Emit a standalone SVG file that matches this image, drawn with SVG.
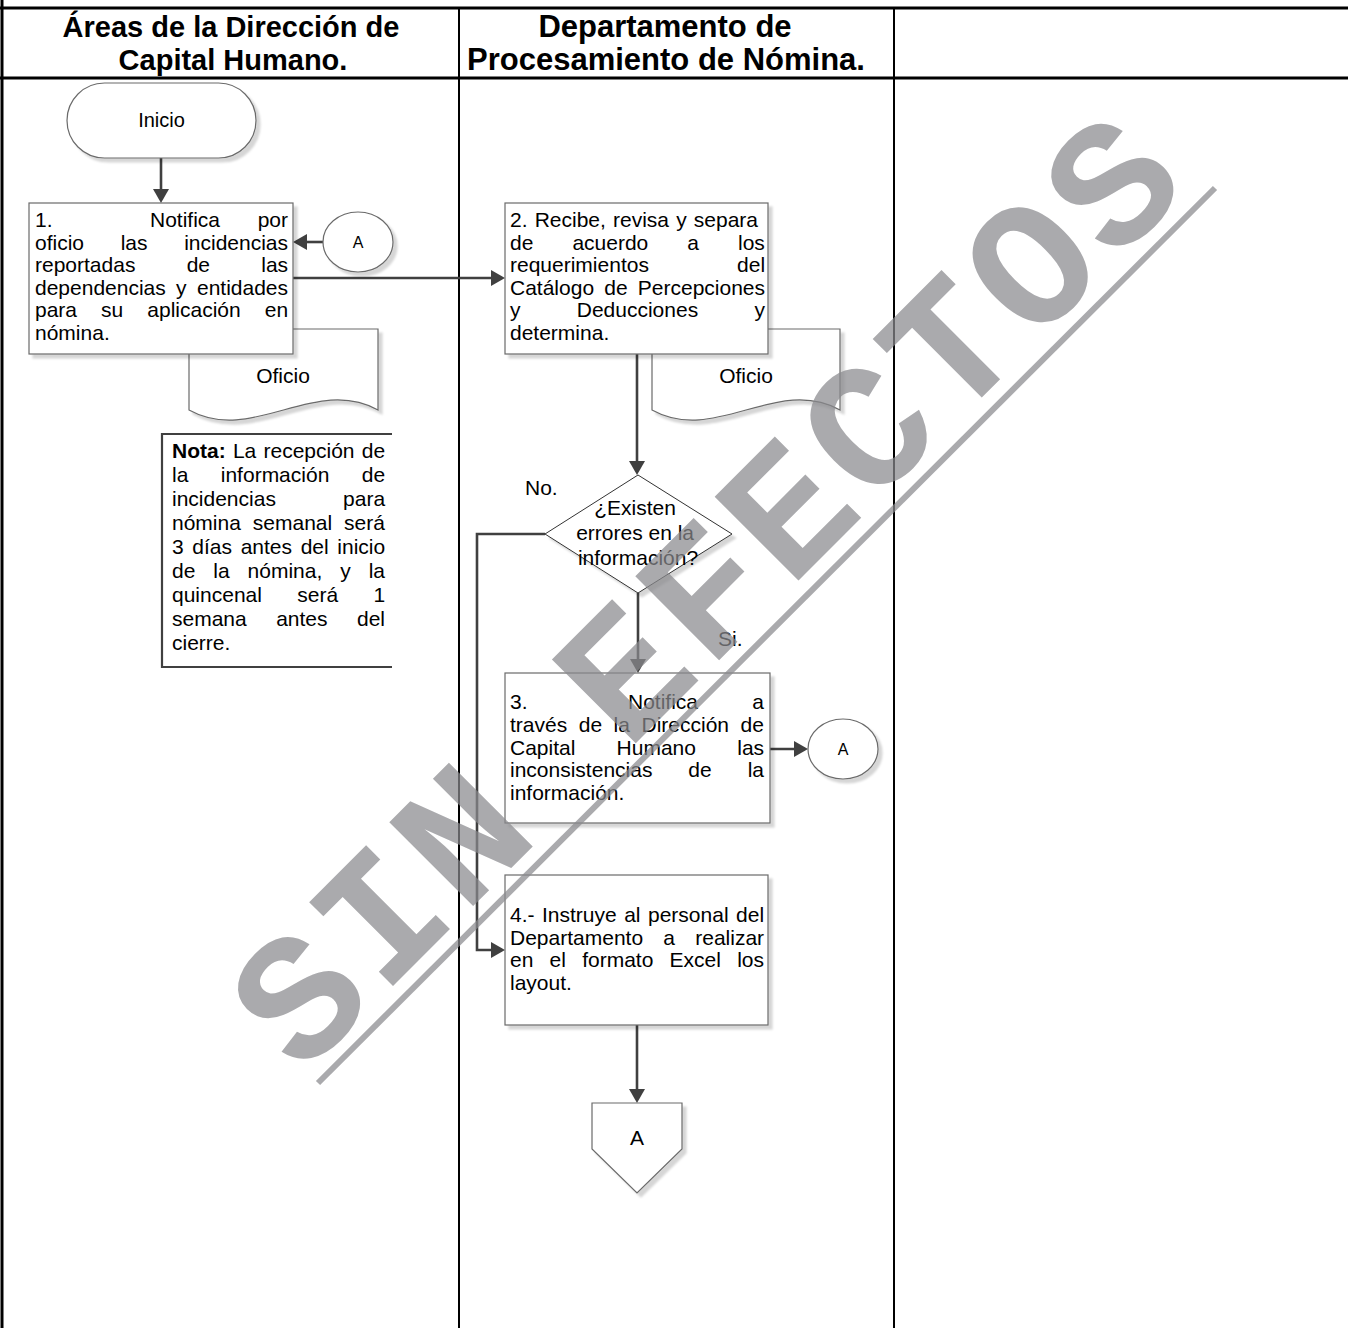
<svg xmlns="http://www.w3.org/2000/svg" width="1348" height="1328" viewBox="0 0 1348 1328">
  <style>
    .lane { stroke:#000; fill:none; }
    .shape { fill:#fff; stroke:#6a6a6a; stroke-width:1.2; filter:url(#shadow); }
    .conn { stroke:#404040; stroke-width:2.6; fill:none; }
    .t { font-family:"Liberation Sans", Arial, sans-serif; font-size:21px; fill:#000; }
    .hdr { font-family:"Liberation Sans", Arial, sans-serif; font-weight:bold; fill:#000; text-anchor:middle; }
    .mid { text-anchor:middle; }
    .wm { font-family:"Liberation Mono", "Courier New", monospace; font-size:180px; font-weight:bold; letter-spacing:7px; }
  </style>
  <defs>
    <filter id="shadow" x="-10%" y="-10%" width="130%" height="130%">
      <feDropShadow dx="4" dy="4" stdDeviation="1.2" flood-color="#000" flood-opacity="0.16"/>
    </filter>
    <marker id="arrow" viewBox="0 0 14 16" refX="11" refY="8" markerWidth="14" markerHeight="16" markerUnits="userSpaceOnUse" orient="auto">
      <path d="M0,0 L14,8 L0,16 z" fill="#404040"/>
    </marker>
  </defs>

  <rect x="0" y="0" width="1348" height="1328" fill="#fff"/>

  <!-- swimlane frame -->
  <g id="lanes">
    <path class="lane" stroke-width="3" d="M0,8 H1348 M0,78 H1348 M2,0 V1328"/>
    <path class="lane" stroke-width="2" d="M459,8 V1328 M894,8 V1328"/>
    <text class="hdr" x="231" y="37" font-size="29">Áreas de la Dirección de</text>
    <text class="hdr" x="233" y="70" font-size="29">Capital Humano.</text>
    <text class="hdr" x="665" y="37" font-size="31">Departamento de</text>
    <text class="hdr" x="666" y="70" font-size="31">Procesamiento de Nómina.</text>
  </g>

  <!-- documents sit behind the process boxes -->
  <g id="doc-oficio-1">
    <path class="shape" d="M189,329 H378 V410 C315,375 252,445 189,410 Z"/>
    <text class="t mid" x="283" y="383">Oficio</text>
  </g>
  <g id="doc-oficio-2">
    <path class="shape" d="M652,329 H840 V410 C777,375 715,445 652,410 Z"/>
    <text class="t mid" x="746" y="383">Oficio</text>
  </g>

  <g id="connectors">
    <path class="conn" marker-end="url(#arrow)" d="M161,158 V200"/>
    <path class="conn" marker-end="url(#arrow)" d="M323,242 H296"/>
    <path class="conn" marker-end="url(#arrow)" d="M293,278 H502"/>
    <path class="conn" marker-end="url(#arrow)" d="M637,354 V472"/>
    <path class="conn" marker-end="url(#arrow)" d="M545,534 H477 V950 H502"/>
    <path class="conn" marker-end="url(#arrow)" d="M638,593 V670"/>
    <path class="conn" marker-end="url(#arrow)" d="M770,749 H805"/>
    <path class="conn" marker-end="url(#arrow)" d="M637,1025 V1100"/>
  </g>

  <g id="inicio">
    <rect class="shape" x="67" y="83" width="189" height="75" rx="37.5"/>
    <text class="t mid" x="161.5" y="127" style="font-size:20px">Inicio</text>
  </g>

  <g id="paso-1">
    <rect class="shape" x="29" y="203" width="264" height="151"/>
    <text class="t">
      <tspan x="35" y="227">1.</tspan><tspan x="150" y="227">Notifica</tspan><tspan x="257.7" y="227">por</tspan>
      <tspan x="35" y="249.5" style="word-spacing:30.8px">oficio las incidencias</tspan>
      <tspan x="35" y="272" style="word-spacing:45.4px">reportadas de las</tspan>
      <tspan x="35" y="294.5" style="word-spacing:4.5px">dependencias y entidades</tspan>
      <tspan x="35" y="317" style="word-spacing:18.2px">para su aplicación en</tspan>
      <tspan x="35" y="339.5">nómina.</tspan>
    </text>
  </g>

  <g id="conector-a-1">
    <ellipse class="shape" cx="358" cy="242" rx="35" ry="30"/>
    <text class="t mid" x="358" y="248" style="font-size:16px">A</text>
  </g>

  <g id="nota">
    <path d="M392,434 H162 V667 H392" fill="#fff" stroke="#404040" stroke-width="2.2"/>
    <text class="t">
      <tspan x="172" y="458" style="word-spacing:1.4px"><tspan font-weight="bold">Nota:</tspan> La recepción de</tspan>
      <tspan x="172" y="482" style="word-spacing:26.6px">la información de</tspan>
      <tspan x="172" y="506" style="word-spacing:61.3px">incidencias para</tspan>
      <tspan x="172" y="530" style="word-spacing:6.1px">nómina semanal será</tspan>
      <tspan x="172" y="554" style="word-spacing:2.8px">3 días antes del inicio</tspan>
      <tspan x="172" y="578" style="word-spacing:12.1px">de la nómina, y la</tspan>
      <tspan x="172" y="602" style="word-spacing:29.5px">quincenal será 1</tspan>
      <tspan x="172" y="626" style="word-spacing:23.6px">semana antes del</tspan>
      <tspan x="172" y="650">cierre.</tspan>
    </text>
  </g>

  <g id="paso-2">
    <rect class="shape" x="505" y="203" width="263" height="151"/>
    <text class="t">
      <tspan x="510" y="227" style="word-spacing:1.3px">2. Recibe, revisa y separa</tspan>
      <tspan x="510" y="249.5" style="word-spacing:33.2px">de acuerdo a los</tspan>
      <tspan x="510" y="272" style="word-spacing:82.3px">requerimientos del</tspan>
      <tspan x="510" y="294.5" style="word-spacing:4.35px">Catálogo de Percepciones</tspan>
      <tspan x="510" y="317" style="word-spacing:50.4px">y Deducciones y</tspan>
      <tspan x="510" y="339.5">determina.</tspan>
    </text>
  </g>

  <g id="decision">
    <polygon class="shape" points="638,475 732,534 638,593 545,534" style="stroke:#333;stroke-width:1"/>
    <text class="t mid">
      <tspan x="638" y="515">¿Existen</tspan>
      <tspan x="638" y="540">errores en la</tspan>
      <tspan x="638" y="565">información?</tspan>
    </text>
    <text class="t" x="525" y="495">No.</text>
    <text class="t" x="718" y="646">Si.</text>
  </g>

  <g id="paso-3">
    <rect class="shape" x="505" y="673" width="265" height="150"/>
    <text class="t">
      <tspan x="510" y="709">3.</tspan><tspan x="628" y="709">Notifica</tspan><tspan x="752.3" y="709">a</tspan>
      <tspan x="510" y="731.8" style="word-spacing:5.7px">través de la Dirección de</tspan>
      <tspan x="510" y="754.6" style="word-spacing:35.4px">Capital Humano las</tspan>
      <tspan x="510" y="777.4" style="word-spacing:30.1px">inconsistencias de la</tspan>
      <tspan x="510" y="800.2">información.</tspan>
    </text>
  </g>

  <g id="conector-a-2">
    <ellipse class="shape" cx="843" cy="749" rx="35" ry="30"/>
    <text class="t mid" x="843" y="755" style="font-size:16px">A</text>
  </g>

  <g id="paso-4">
    <rect class="shape" x="505" y="875" width="263" height="150"/>
    <text class="t">
      <tspan x="510" y="922" style="word-spacing:1.65px">4.- Instruye al personal del</tspan>
      <tspan x="510" y="944.7" style="word-spacing:14.4px">Departamento a realizar</tspan>
      <tspan x="510" y="967.4" style="word-spacing:10.4px">en el formato Excel los</tspan>
      <tspan x="510" y="990.1">layout.</tspan>
    </text>
  </g>

  <g id="fuera-de-pagina-a">
    <polygon class="shape" points="592,1103 682,1103 682,1149 637,1193 592,1149"/>
    <text class="t mid" x="637" y="1145">A</text>
  </g>

  <!-- diagonal watermark over the whole sheet -->
  <g id="marca-de-agua" opacity="0.72" fill="#8a8a8e">
    <text class="wm" transform="translate(710,595.5) rotate(-45)" x="-629" y="52">SIN EFECTOS</text>
    <line x1="318" y1="1083" x2="1215" y2="188" stroke="#8a8a8e" stroke-width="6"/>
  </g>
</svg>
